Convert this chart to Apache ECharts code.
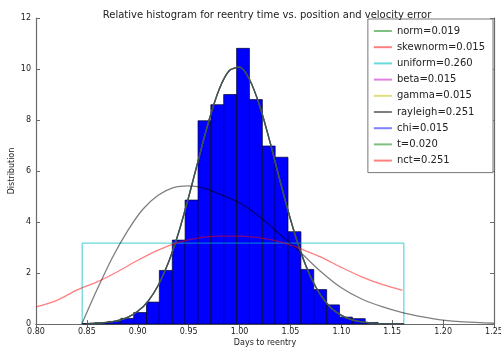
<!DOCTYPE html>
<html>
<head>
<meta charset="utf-8">
<script src="https://cdn.jsdelivr.net/npm/echarts@6/dist/echarts.min.js"></script>
<style>
  html, body { margin: 0; padding: 0; background: #fff; }
  #chart { width: 501px; height: 349px; }
</style>
</head>
<body>
<div id="chart"></div>
<script>
// histogram bins (edges) and relative heights
const binEdges = [
  0.8454, 0.8580, 0.8707, 0.8833, 0.8960, 0.9086, 0.9212, 0.9339, 0.9465,
  0.9592, 0.9718, 0.9844, 0.9971, 1.0097, 1.0224, 1.0350, 1.0476, 1.0603,
  1.0729, 1.0856, 1.0982, 1.1108, 1.1235, 1.1361, 1.1488, 1.1614
];
const binHeights = [
  0.02, 0.05, 0.10, 0.22, 0.45, 0.86, 2.10, 3.29, 4.86, 7.97, 8.60, 9.00,
  10.81, 8.80, 6.98, 6.54, 3.62, 2.14, 1.35, 0.75, 0.27, 0.21, 0.06, 0.02, 0.02
];

// fitted pdfs
const peakX = [
  0.85, 0.86, 0.87, 0.88, 0.89, 0.90, 0.91, 0.92, 0.93, 0.94, 0.95, 0.96,
  0.97, 0.98, 0.99, 1.00, 1.01, 1.02, 1.03, 1.04, 1.05, 1.06, 1.07, 1.08,
  1.09, 1.10, 1.11, 1.12, 1.13, 1.14, 1.15, 1.16
];
const peakY = [
  0.01, 0.03, 0.06, 0.13, 0.26, 0.50, 0.89, 1.51, 2.40, 3.57, 4.98, 6.51,
  7.99, 9.21, 9.94, 10.07, 9.57, 8.53, 7.12, 5.58, 4.11, 2.83, 1.83, 1.11,
  0.63, 0.34, 0.17, 0.08, 0.035, 0.015, 0.006, 0.002
];
const uniformX = [0.8454, 0.8454, 1.1614, 1.1614];
const uniformY = [0, 3.17, 3.17, 0];
const rayleighX = [
  0.845, 0.86, 0.875, 0.89, 0.905, 0.92, 0.935, 0.95, 0.965, 0.98, 1.00,
  1.02, 1.04, 1.06, 1.08, 1.10, 1.12, 1.14, 1.16, 1.18, 1.20, 1.22, 1.25
];
const rayleighY = [
  0, 1.35, 2.60, 3.65, 4.50, 5.05, 5.35, 5.42, 5.33, 5.10, 4.75,
  4.20, 3.50, 2.80, 2.05, 1.42, 0.98, 0.68, 0.45, 0.28, 0.15, 0.08, 0.03
];
const nctX = [
  0.80, 0.82, 0.84, 0.86, 0.88, 0.90, 0.92, 0.94, 0.96, 0.98, 1.00,
  1.02, 1.04, 1.06, 1.08, 1.10, 1.12, 1.14, 1.16
];
const nctY = [
  0.67, 0.92, 1.33, 1.65, 2.05, 2.50, 2.90, 3.20, 3.38, 3.45, 3.45,
  3.38, 3.22, 2.95, 2.62, 2.22, 1.85, 1.55, 1.32
];

const legendNames = [
  'norm=0.019', 'skewnorm=0.015', 'uniform=0.260', 'beta=0.015',
  'gamma=0.015', 'rayleigh=0.251', 'chi=0.015', 't=0.020', 'nct=0.251'
];

const FONT = 'DejaVu Sans';
const frameColor = '#6a6a6a';

const zip = (xs, ys) => xs.map((x, i) => [x, ys[i]]);

const lineSeries = (name, color, data, smooth) => ({
  name: name,
  type: 'line',
  data: data,
  smooth: smooth,
  symbol: 'none',
  silent: true,
  animation: false,
  lineStyle: { color: color, width: 1.3 },
  itemStyle: { color: color }
});

const initChart = () => {
  const chartDom = document.getElementById('chart');
  const myChart = echarts.init(chartDom, null, { renderer: 'canvas' });

  const histData = binHeights.map((h, i) => [binEdges[i], binEdges[i + 1], h]);
  const peak = zip(peakX, peakY);

  const axisCommon = {
    type: 'value',
    axisLine: { show: true, lineStyle: { color: frameColor, width: 1.2 } },
    axisTick: { show: true, inside: true, length: 4, lineStyle: { color: frameColor } },
    splitLine: { show: false }
  };

  const option = {
    animation: false,
    textStyle: { fontFamily: FONT },
    title: {
      text: 'Relative histogram for reentry time vs. position and velocity error',
      left: 262,
      top: 5,
      textAlign: 'center',
      textStyle: { fontFamily: FONT, fontSize: 10, fontWeight: 'normal', color: '#222' }
    },
    grid: { left: 36, right: 7, top: 18, bottom: 25, containLabel: false, outerBoundsMode: 'none' },
    legend: {
      data: legendNames,
      orient: 'vertical',
      right: 8,
      top: 19,
      padding: [7, 8, 7, 6],
      icon: 'rect',
      itemGap: 6.2,
      itemWidth: 18,
      itemHeight: 2,
      backgroundColor: '#fff',
      borderColor: '#777',
      borderWidth: 1,
      borderRadius: 0,
      selectedMode: false,
      textStyle: { fontFamily: FONT, fontSize: 10, color: '#222' }
    },
    xAxis: [
      Object.assign({}, axisCommon, {
        position: 'bottom',
        min: 0.8,
        max: 1.25,
        interval: 0.05,
        name: 'Days to reentry',
        nameLocation: 'middle',
        nameGap: 15,
        nameMoveOverlap: false,
        nameTextStyle: { fontFamily: FONT, fontSize: 8, color: '#222' },
        axisLabel: {
          fontFamily: FONT, fontSize: 8, color: '#222', margin: 4,
          formatter: (v) => v.toFixed(2)
        }
      }),
      Object.assign({}, axisCommon, {
        position: 'top', min: 0.8, max: 1.25, interval: 0.05,
        axisLabel: { show: false }
      })
    ],
    yAxis: [
      Object.assign({}, axisCommon, {
        position: 'left',
        min: 0,
        max: 12,
        interval: 2,
        name: 'Distribution',
        nameLocation: 'middle',
        nameGap: 20,
        nameRotate: 90,
        nameMoveOverlap: false,
        nameTextStyle: { fontFamily: FONT, fontSize: 8, color: '#222' },
        axisLabel: { fontFamily: FONT, fontSize: 8, color: '#222', margin: 5 }
      }),
      Object.assign({}, axisCommon, {
        position: 'right', min: 0, max: 12, interval: 2,
        axisLabel: { show: false }
      })
    ],
    series: [
      {
        name: 'hist',
        type: 'custom',
        silent: true,
        data: histData,
        encode: { x: [0, 1], y: 2 },
        renderItem: (params, api) => {
          const p0 = api.coord([api.value(0), api.value(2)]);
          const p1 = api.coord([api.value(1), 0]);
          return {
            type: 'rect',
            shape: { x: p0[0], y: p0[1], width: p1[0] - p0[0], height: p1[1] - p0[1] },
            style: { fill: '#0000ff', stroke: '#00002a', lineWidth: 0.7 }
          };
        }
      },
      lineSeries(legendNames[0], 'rgba(0,128,0,0.5)', peak, 0.3),
      lineSeries(legendNames[1], 'rgba(255,0,0,0.5)', peak, 0.3),
      lineSeries(legendNames[2], 'rgba(0,191,191,0.6)', zip(uniformX, uniformY), false),
      lineSeries(legendNames[3], 'rgba(191,0,191,0.5)', peak, 0.3),
      lineSeries(legendNames[4], 'rgba(191,191,0,0.5)', peak, 0.3),
      lineSeries(legendNames[5], 'rgba(0,0,0,0.5)', zip(rayleighX, rayleighY), 0.3),
      lineSeries(legendNames[6], 'rgba(0,0,255,0.5)', peak, 0.3),
      lineSeries(legendNames[7], 'rgba(0,128,0,0.5)', peak, 0.3),
      lineSeries(legendNames[8], 'rgba(255,0,0,0.5)', zip(nctX, nctY), 0.3)
    ]
  };

  myChart.setOption(option);
};

initChart();
</script>
</body>
</html>
